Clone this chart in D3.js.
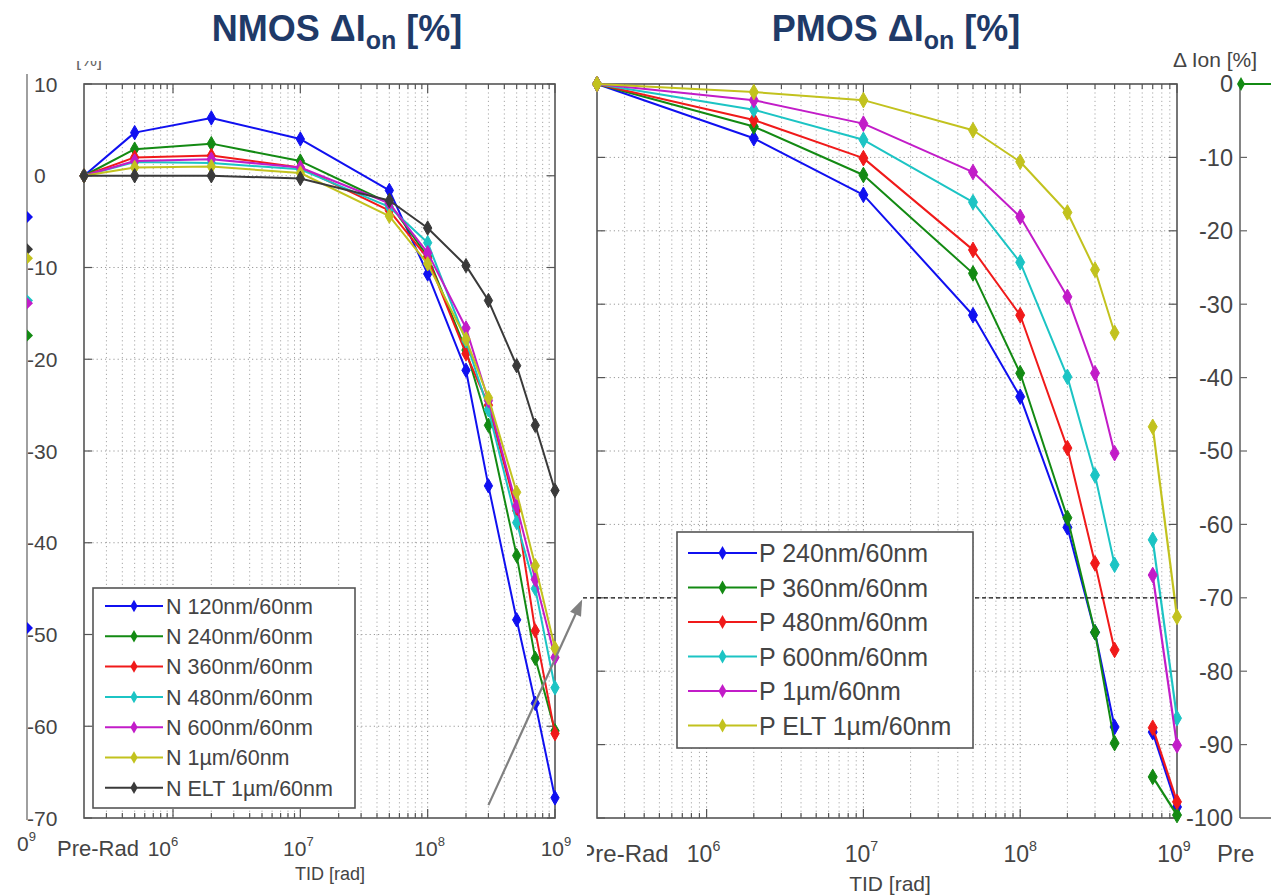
<!DOCTYPE html>
<html>
<head>
<meta charset="utf-8">
<script src="https://cdn.jsdelivr.net/npm/d3@7"></script>
<style>
  html, body { margin: 0; padding: 0; background: #fff; }
  svg { display: block; }
  text { font-family: "Liberation Sans", Arial, Helvetica, sans-serif; }
</style>
</head>
<body>
<div id="chart"></div>
<script>
// ---------- data ----------
// Total ionizing dose (rad); the first point is the pre-irradiation reference.
const tidN = [2e5, 5e5, 2e6, 1e7, 5e7, 1e8, 2e8, 3e8, 5e8, 7e8, 1e9];
const nmosNames = ["N 120nm/60nm", "N 240nm/60nm", "N 360nm/60nm", "N 480nm/60nm",
                   "N 600nm/60nm", "N 1\u00b5m/60nm", "N ELT 1\u00b5m/60nm"];
const nmos120 = [0, 4.7, 6.3, 4.0, -1.6, -10.7, -21.2, -33.8, -48.4, -57.5, -67.8];
const nmos240 = [0, 2.9, 3.5, 1.6, -3.0, -8.8, -19.0, -27.2, -41.4, -52.6, -60.5];
const nmos360 = [0, 2.0, 2.2, 0.9, -3.8, -9.0, -19.4, -25.0, -36.5, -49.6, -60.8];
const nmos480 = [0, 1.5, 1.4, 0.7, -3.4, -7.3, -18.0, -25.5, -37.8, -45.0, -55.8];
const nmos600 = [0, 1.6, 1.8, 0.9, -3.0, -8.4, -16.6, -24.5, -36.0, -44.0, -52.5];
const nmos1um = [0, 0.9, 1.0, 0.3, -4.4, -9.6, -17.8, -24.2, -34.5, -42.5, -51.5];
const nmosELT = [0, 0.0, 0.0, -0.3, -2.7, -5.7, -9.8, -13.6, -20.7, -27.2, -34.3];

const tidP = [2e5, 2e6, 1e7, 5e7, 1e8, 2e8, 3e8, 4e8];
const tidPTail = [7e8, 1e9];
const pmosNames = ["P 240nm/60nm", "P 360nm/60nm", "P 480nm/60nm", "P 600nm/60nm",
                   "P 1\u00b5m/60nm", "P ELT 1\u00b5m/60nm"];
const pmos240 = [0, -7.4, -15.1, -31.5, -42.6, -60.4, -74.7, -87.6];
const pmos360 = [0, -5.8, -12.4, -25.8, -39.4, -59.1, -74.7, -89.8];
const pmos480 = [0, -4.9, -10.1, -22.6, -31.5, -49.6, -65.3, -77.1];
const pmos600 = [0, -3.5, -7.6, -16.1, -24.3, -39.9, -53.3, -65.5];
const pmos1um = [0, -2.2, -5.4, -12.0, -18.1, -29.0, -39.4, -50.3];
const pmosELT = [0, -1.1, -2.2, -6.3, -10.6, -17.5, -25.3, -33.9];
const pmos240Tail = [-88.3, -98.5];
const pmos360Tail = [-94.4, -99.6];
const pmos480Tail = [-87.7, -97.8];
const pmos600Tail = [-62.1, -86.4];
const pmos1umTail = [-66.9, -90.1];
const pmosELTTail = [-46.7, -72.6];

// end points of the neighbouring NMOS panel that sit on the left border
const sideNames = ["blue", "black", "yellow", "cyan", "magenta", "green", "blue"];
const sideValues = [-4.5, -8.0, -9.0, -13.6, -13.9, -17.4, -49.3];

const nmosYTicks = [10, 0, -10, -20, -30, -40, -50, -60, -70];
const pmosYTicks = [0, -10, -20, -30, -40, -50, -60, -70, -80, -90, -100];
const decadeTicks = [1e6, 1e7, 1e8, 1e9];

const colors = {
  blue: "#1010f0", green: "#138a13", red: "#f01a1a", cyan: "#1cc4c4",
  magenta: "#c21cc8", yellow: "#c2c21e", black: "#3a3a3a"
};
const nmosColors = [colors.blue, colors.green, colors.red, colors.cyan, colors.magenta, colors.yellow, colors.black];
const pmosColors = [colors.blue, colors.green, colors.red, colors.cyan, colors.magenta, colors.yellow];

// ---------- layout ----------
const W = 1271, H = 896;
const svg = d3.select("#chart").append("svg").attr("width", W).attr("height", H);

const TITLE_COLOR = "#1f3a68";
const AXIS_COLOR = "#555";
const TEXT_COLOR = "#444";

function title(cx, label) {
  const t = svg.append("text").attr("x", cx).attr("y", 41)
    .attr("text-anchor", "middle").attr("font-size", 36).attr("font-weight", "bold")
    .attr("fill", TITLE_COLOR);
  t.append("tspan").text(label + " \u0394I");
  t.append("tspan").attr("font-size", 25).attr("dy", 8).text("on");
  t.append("tspan").attr("dy", -8).text(" [%]");
}
title(337, "NMOS");
title(896, "PMOS");

function drawPanel(p) {
  const x = d3.scaleLog().domain([2e5, 1e9]).range([p.x0, p.x1]);
  const y = d3.scaleLinear().domain(p.yDomain).range([p.y1, p.y0]);
  const g = svg.append("g");

  const allTicks = x.ticks().filter(v => v > 2e5 * 1.01 && v < 1e9 * 0.99);
  // dotted grid
  g.append("g").selectAll("line").data(allTicks).join("line")
    .attr("x1", d => x(d)).attr("x2", d => x(d)).attr("y1", p.y0).attr("y2", p.y1)
    .attr("stroke", d => decadeTicks.includes(d) ? "#8a8a8a" : "#a8a8a8")
    .attr("stroke-width", 1).attr("stroke-dasharray", "1.2,3");
  const yGrid = p.yTicks.filter(v => v !== p.yDomain[0] && v !== p.yDomain[1]);
  g.append("g").selectAll("line").data(yGrid).join("line")
    .attr("x1", p.x0).attr("x2", p.x1).attr("y1", d => y(d)).attr("y2", d => y(d))
    .attr("stroke", "#9a9a9a").attr("stroke-width", 1).attr("stroke-dasharray", "1.2,3");

  // inward tick marks on all four sides
  const tickLen = d => decadeTicks.includes(d) ? 9 : 5;
  const xt = x.ticks().filter(v => v > 2e5 * 1.01);
  g.append("g").selectAll("line").data(xt).join("line")
    .attr("x1", d => x(d)).attr("x2", d => x(d)).attr("y1", p.y1).attr("y2", d => p.y1 - tickLen(d))
    .attr("stroke", AXIS_COLOR).attr("stroke-width", 1.2);
  g.append("g").selectAll("line").data(xt).join("line")
    .attr("x1", d => x(d)).attr("x2", d => x(d)).attr("y1", p.y0).attr("y2", d => p.y0 + tickLen(d))
    .attr("stroke", AXIS_COLOR).attr("stroke-width", 1.2);
  g.append("g").selectAll("line").data(p.yTicks).join("line")
    .attr("x1", p.x0).attr("x2", p.x0 + 8).attr("y1", d => y(d)).attr("y2", d => y(d))
    .attr("stroke", AXIS_COLOR).attr("stroke-width", 1.2);
  g.append("g").selectAll("line").data(p.yTicks).join("line")
    .attr("x1", p.x1).attr("x2", p.x1 - 8).attr("y1", d => y(d)).attr("y2", d => y(d))
    .attr("stroke", AXIS_COLOR).attr("stroke-width", 1.2);

  // frame
  g.append("rect").attr("x", p.x0).attr("y", p.y0)
    .attr("width", p.x1 - p.x0).attr("height", p.y1 - p.y0)
    .attr("fill", "none").attr("stroke", AXIS_COLOR).attr("stroke-width", 1.6);

  // x tick labels
  const lab = g.append("g").attr("fill", TEXT_COLOR).attr("font-size", p.fs);
  if (p.clipLeft != null) {
    const id = "clip" + p.x0;
    svg.append("clipPath").attr("id", id).append("rect")
      .attr("x", p.clipLeft).attr("y", 0).attr("width", W).attr("height", H);
    lab.attr("clip-path", `url(#${id})`);
  }
  lab.append("text").attr("x", x(2e5) + p.preOffset).attr("y", p.labelY)
    .attr("text-anchor", "middle").attr("font-size", p.preFs).text("Pre-Rad");
  decadeTicks.forEach((v, i) => {
    const t = lab.append("text").attr("x", x(v) + p.labelShift[i]).attr("y", p.labelY)
      .attr("text-anchor", "middle");
    t.append("tspan").text("10");
    t.append("tspan").attr("dy", -p.fs * 0.5).attr("font-size", p.fs * 0.62)
      .text(Math.round(Math.log10(v)));
  });
  g.append("text").attr("x", p.axisLabelX).attr("y", p.axisLabelY)
    .attr("text-anchor", "middle").attr("font-size", p.axisFs).attr("fill", TEXT_COLOR)
    .text("TID [rad]");

  return { x, y, g };
}

const left = drawPanel({
  x0: 84, x1: 555, y0: 84, y1: 818, yDomain: [-70, 10], yTicks: nmosYTicks,
  fs: 21, preFs: 22, labelY: 856, preOffset: 14, labelShift: [-10, -2, 2, 1],
  axisLabelX: 330, axisLabelY: 880, axisFs: 18
});
const right = drawPanel({
  x0: 597, x1: 1177, y0: 84, y1: 818, yDomain: [-100, 0], yTicks: pmosYTicks,
  fs: 23, preFs: 24, labelY: 862, preOffset: 27, labelShift: [-3, -2, 0, -3],
  axisLabelX: 890, axisLabelY: 891, axisFs: 21, clipLeft: 587
});

// ---------- connector: dashed -70 % level on the PMOS panel ----------
const arrowEnd = [right.x(2e5) - 14, right.y(-70)];
svg.append("line")
  .attr("x1", arrowEnd[0]).attr("x2", right.x(1e9))
  .attr("y1", arrowEnd[1]).attr("y2", arrowEnd[1])
  .attr("stroke", "#111").attr("stroke-width", 1.2).attr("stroke-dasharray", "4,3");

// ---------- series ----------
const diamond = d3.symbol().type(d3.symbolDiamond);

function drawSeries(panel, xs, ys, color, size, width) {
  const pts = xs.map((v, i) => [panel.x(v), panel.y(ys[i])]);
  panel.g.append("path").attr("d", d3.line()(pts))
    .attr("fill", "none").attr("stroke", color).attr("stroke-width", width)
    .attr("stroke-linejoin", "round");
  panel.g.append("g").selectAll("path").data(pts).join("path")
    .attr("transform", d => `translate(${d[0]},${d[1]})`)
    .attr("d", diamond.size(size)()).attr("fill", color).attr("stroke", color).attr("stroke-width", 1);
}

const nmosSeries = [nmos120, nmos240, nmos360, nmos480, nmos600, nmos1um, nmosELT];
nmosSeries.forEach((s, i) => drawSeries(left, tidN, s, nmosColors[i], 60, 2));

const pmosSeries = [pmos240, pmos360, pmos480, pmos600, pmos1um, pmosELT];
const pmosTails = [pmos240Tail, pmos360Tail, pmos480Tail, pmos600Tail, pmos1umTail, pmosELTTail];
pmosSeries.forEach((s, i) => drawSeries(right, tidP, s, pmosColors[i], 70, 2));
pmosTails.forEach((s, i) => drawSeries(right, tidPTail, s, pmosColors[i], 70, 2.2));

// ---------- legends ----------
function legend(names, cols, box) {
  const g = svg.append("g");
  g.append("rect").attr("x", box.x).attr("y", box.y).attr("width", box.w).attr("height", box.h)
    .attr("fill", "#fff").attr("stroke", AXIS_COLOR).attr("stroke-width", 1.6);
  names.forEach((n, i) => {
    const yy = box.y + box.first + i * box.step;
    g.append("line").attr("x1", box.x + box.l0).attr("x2", box.x + box.l1)
      .attr("y1", yy).attr("y2", yy).attr("stroke", cols[i]).attr("stroke-width", 2);
    g.append("path").attr("transform", `translate(${box.x + (box.l0 + box.l1) / 2},${yy})`)
      .attr("d", diamond.size(box.ms)()).attr("fill", cols[i]);
    g.append("text").attr("x", box.x + box.tx).attr("y", yy).attr("dy", "0.36em")
      .attr("font-size", box.fs).attr("fill", TEXT_COLOR).text(n);
  });
}
legend(nmosNames, nmosColors,
  { x: 93, y: 588, w: 262, h: 220, first: 18, step: 30.3, l0: 12, l1: 70, tx: 73, fs: 21.5, ms: 45 });
legend(pmosNames, pmosColors,
  { x: 677, y: 532, w: 296, h: 216, first: 21, step: 34.5, l0: 11, l1: 80, tx: 82, fs: 25, ms: 55 });

// arrow drawn on top of the NMOS curves
const arrowStart = [left.x(3e8), left.y(-68.6)];
const ang = Math.atan2(arrowEnd[1] - arrowStart[1], arrowEnd[0] - arrowStart[0]);
const tip = [arrowEnd[0] - 2 * Math.cos(ang), arrowEnd[1] - 2 * Math.sin(ang)];
svg.append("line")
  .attr("x1", arrowStart[0]).attr("y1", arrowStart[1])
  .attr("x2", tip[0] - 12 * Math.cos(ang)).attr("y2", tip[1] - 12 * Math.sin(ang))
  .attr("stroke", "#808080").attr("stroke-width", 2.2);
const ah = 16, aw = 6;
const bx = tip[0] - ah * Math.cos(ang), by = tip[1] - ah * Math.sin(ang);
svg.append("path")
  .attr("d", `M${tip[0]},${tip[1]}L${bx + aw * Math.sin(ang)},${by - aw * Math.cos(ang)}L${bx - aw * Math.sin(ang)},${by + aw * Math.cos(ang)}Z`)
  .attr("fill", "#808080");

// ---------- y tick labels ----------
svg.append("g").attr("font-size", 21).attr("fill", TEXT_COLOR)
  .selectAll("text").data(nmosYTicks).join("text")
  .attr("x", d => d < 0 ? 27 : 34).attr("y", d => left.y(d)).attr("dy", "0.36em")
  .text(d => d < 0 ? "-" + Math.abs(d) : d);
svg.append("g").attr("font-size", 23.5).attr("fill", TEXT_COLOR)
  .selectAll("text").data(pmosYTicks).join("text")
  .attr("x", 1233).attr("y", d => right.y(d)).attr("dy", "0.36em").attr("text-anchor", "end")
  .text(d => d < 0 ? "-" + Math.abs(d) : d);

// ---------- neighbouring panels cut by the page edges ----------
// left neighbour: its right border with the last markers
svg.append("line").attr("x1", 27).attr("x2", 27).attr("y1", 74).attr("y2", 820)
  .attr("stroke", "#777").attr("stroke-width", 1.4);
svg.append("g").selectAll("path").data(sideValues).join("path")
  .attr("d", d => {
    const yy = left.y(d);
    return `M27,${yy - 6}L33,${yy}L27,${yy + 6}Z`;
  })
  .attr("fill", (d, i) => colors[sideNames[i]]);
const lb = svg.append("text").attr("x", 17).attr("y", 851).attr("font-size", 21).attr("fill", TEXT_COLOR);
lb.append("tspan").text("0");
lb.append("tspan").attr("dy", -10).attr("font-size", 13).text("9");
svg.append("clipPath").attr("id", "clipTop").append("rect").attr("x", 0).attr("y", 61).attr("width", 200).attr("height", 30);
svg.append("text").attr("x", 76).attr("y", 66).attr("font-size", 18).attr("fill", "#666")
  .attr("clip-path", "url(#clipTop)").text("[%]");

// right neighbour: its left border, first point and axis label
const rg = svg.append("g");
rg.append("line").attr("x1", 1240).attr("x2", 1240).attr("y1", 84).attr("y2", 818)
  .attr("stroke", "#666").attr("stroke-width", 1.6);
rg.append("line").attr("x1", 1240).attr("x2", W).attr("y1", 818).attr("y2", 818)
  .attr("stroke", "#666").attr("stroke-width", 1.6);
rg.selectAll(".rt").data(pmosYTicks.slice(1, -1)).join("line")
  .attr("x1", 1240).attr("x2", 1247).attr("y1", d => right.y(d)).attr("y2", d => right.y(d))
  .attr("stroke", "#666").attr("stroke-width", 1.2);
rg.append("line").attr("x1", 1240).attr("x2", W).attr("y1", right.y(0)).attr("y2", right.y(0))
  .attr("stroke", colors.green).attr("stroke-width", 2);
rg.append("path").attr("transform", `translate(1241,${right.y(0)})`)
  .attr("d", diamond.size(55)()).attr("fill", colors.green);
rg.append("text").attr("x", 1217).attr("y", 862).attr("font-size", 24).attr("fill", TEXT_COLOR).text("Pre");
rg.append("text").attr("x", 1257).attr("y", 67).attr("text-anchor", "end")
  .attr("font-size", 21).attr("fill", TEXT_COLOR).text("\u0394 Ion [%]");
</script>
</body>
</html>
